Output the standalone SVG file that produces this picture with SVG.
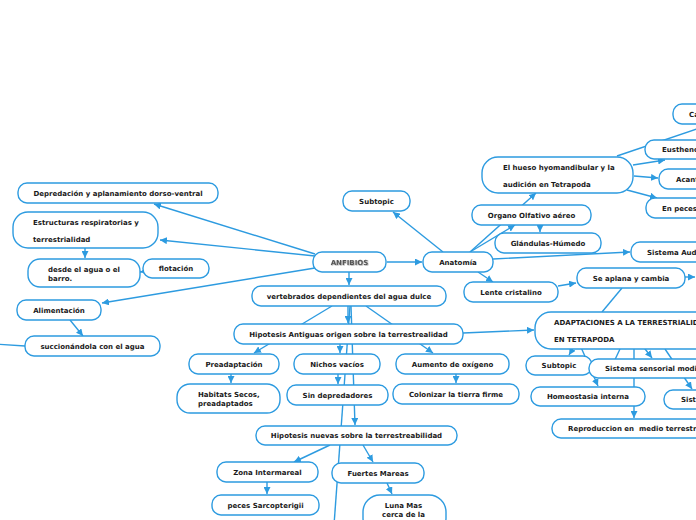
<svg xmlns="http://www.w3.org/2000/svg" width="696" height="520" viewBox="0 0 696 520">
<defs>
<style>
.n rect{fill:#fff;stroke:#2d9be0;stroke-width:1.4}
.t{font-family:"DejaVu Sans",Verdana,sans-serif;font-weight:bold;font-size:7px;fill:#1a1a1a}
.m{text-anchor:middle}
.c path{stroke:#2d9be0;stroke-width:1.4;fill:none}
.c path.a{marker-end:url(#ah)}
</style>
<marker id="ah" viewBox="0 0 10 10" refX="10" refY="5" markerWidth="7" markerHeight="7" markerUnits="userSpaceOnUse" orient="auto"><path d="M0,0 L10,5 L0,10 z" fill="#2d9be0"/></marker>
<filter id="sh" x="-10%" y="-30%" width="120%" height="160%"><feDropShadow dx="0.6" dy="0.6" stdDeviation="0.5" flood-color="#999"/></filter>
</defs>
<rect width="696" height="520" fill="#fff"/>
<g id="connectors" class="c">
<path class="a" d="M387,262 L422,262"/>
<path class="a" d="M443,252 L393,212"/>
<path class="a" d="M315,254 L154,204"/>
<path class="a" d="M315,256 L160,240"/>
<path class="a" d="M315,268 L102,303"/>
<path class="a" d="M85,248 L85,258"/>
<path class="a" d="M147,271 L140,272"/>
<path class="a" d="M70,320 L83,336"/>
<path d="M-5,344 L25,346"/>
<path class="a" d="M349,272 L349,285"/>
<path class="a" d="M348,306 L348,323"/>
<path class="a" d="M332,306 L254,353"/>
<path class="a" d="M366,306 L433,353"/>
<path class="a" d="M340,344 L340,353"/>
<path class="a" d="M351,306 L355,425"/>
<path d="M350,306 L334,525"/>
<path class="a" d="M231,374 L231,383"/>
<path class="a" d="M338,374 L338,384"/>
<path class="a" d="M456,374 L456,383"/>
<path class="a" d="M330,445 L294,462"/>
<path class="a" d="M363,445 L373,462"/>
<path class="a" d="M267,482 L267,494"/>
<path class="a" d="M387,483 L392,494"/>
<path class="a" d="M470,252 L515,225"/>
<path class="a" d="M470,252 L536,193"/>
<path class="a" d="M540,225 L540,232"/>
<path class="a" d="M493,259 L630,252"/>
<path class="a" d="M478,272 L493,282"/>
<path class="a" d="M558,286 L576,283"/>
<path class="a" d="M685,277 L695,277"/>
<path d="M622,288 L602,312"/>
<path class="a" d="M463,333 L534,330"/>
<path class="a" d="M578,340 L569,355"/>
<path class="a" d="M580,345 L598,386"/>
<path d="M620,349 L612,366"/>
<path class="a" d="M634,349 L634,418"/>
<path class="a" d="M642,345 L652,358"/>
<path class="a" d="M665,349 L692,389"/>
<path class="a" d="M633,165 L665,160"/>
<path class="a" d="M634,176 L658,178"/>
<path class="a" d="M627,190 L657,198"/>
<path d="M617,156 L700,128"/>
</g>
<g id="n-anfibios" class="n"><rect x="313" y="252" width="73" height="20" rx="9"/><text class="t m" x="349.5" y="264.5" style="fill:#555" filter="url(#sh)">ANFIBIOS</text></g>
<g id="n-anatomia" class="n"><rect x="423" y="252" width="70" height="20" rx="9"/><text class="t m" x="458" y="264.5">Anatomía</text></g>
<g id="n-subtopic1" class="n"><rect x="343" y="191" width="67" height="20" rx="9"/><text class="t m" x="376.5" y="203.5">Subtopic</text></g>
<g id="n-depredacion" class="n"><rect x="18" y="183" width="200" height="20" rx="9"/><text class="t m" x="118" y="195.5">Depredación y aplanamiento dorso-ventral</text></g>
<g id="n-estructuras" class="n"><rect x="13" y="212" width="145" height="36" rx="15"/><text class="t" x="33" y="225">Estructuras respiratorias y</text><text class="t" x="33" y="242">terrestrialidad</text></g>
<g id="n-desde" class="n"><rect x="28" y="259" width="112" height="28" rx="12"/><text class="t" x="48" y="272">desde el agua o el</text><text class="t" x="48" y="281">barro.</text></g>
<g id="n-flotacion" class="n"><rect x="143" y="259" width="66" height="19" rx="9"/><text class="t m" x="176" y="271">flotación</text></g>
<g id="n-alimentacion" class="n"><rect x="17" y="300" width="84" height="20" rx="9"/><text class="t m" x="59" y="312.5">Alimentación</text></g>
<g id="n-succionandola" class="n"><rect x="25" y="336" width="135" height="20" rx="9"/><text class="t m" x="92.5" y="348.5">succionándola con el agua</text></g>
<g id="n-vertebrados" class="n"><rect x="252" y="286" width="194" height="20" rx="9"/><text class="t m" x="349" y="298.5">vertebrados dependientes del agua dulce</text></g>
<g id="n-hipantiguas" class="n"><rect x="234" y="324" width="229" height="20" rx="9"/><text class="t m" x="348.5" y="336.5">Hipotesis Antiguas origen sobre la terrestrealidad</text></g>
<g id="n-preadaptacion" class="n"><rect x="189" y="354" width="90" height="20" rx="9"/><text class="t m" x="234" y="366.5">Preadaptación</text></g>
<g id="n-habitats" class="n"><rect x="177" y="384" width="103" height="29" rx="13"/><text class="t" x="198" y="397">Habitats Secos,</text><text class="t" x="198" y="405.5">preadaptados</text></g>
<g id="n-nichos" class="n"><rect x="294" y="354" width="86" height="20" rx="9"/><text class="t m" x="337" y="366.5">Nichos vacíos</text></g>
<g id="n-sindep" class="n"><rect x="287" y="385" width="101" height="20" rx="9"/><text class="t m" x="337.5" y="397.5">Sin depredadores</text></g>
<g id="n-aumento" class="n"><rect x="396" y="354" width="113" height="20" rx="9"/><text class="t m" x="452.5" y="366.5">Aumento de oxígeno</text></g>
<g id="n-colonizar" class="n"><rect x="393" y="384" width="126" height="20" rx="9"/><text class="t m" x="456" y="396.5">Colonizar la tierra firme</text></g>
<g id="n-hipnuevas" class="n"><rect x="256" y="426" width="201" height="19" rx="9"/><text class="t m" x="356.5" y="438">Hipotesis nuevas sobre la terrestreabilidad</text></g>
<g id="n-zona" class="n"><rect x="217" y="462" width="101" height="20" rx="9"/><text class="t m" x="267.5" y="474.5">Zona Intermareal</text></g>
<g id="n-fuertes" class="n"><rect x="332" y="463" width="92" height="20" rx="9"/><text class="t m" x="378" y="475.5">Fuertes Mareas</text></g>
<g id="n-peces" class="n"><rect x="212" y="495" width="107" height="20" rx="9"/><text class="t m" x="265.5" y="507.5">peces Sarcopterigii</text></g>
<g id="n-luna" class="n"><rect x="363" y="495" width="83" height="40" rx="17"/><text class="t m" x="403.5" y="508">Luna Mas</text><text class="t m" x="403.5" y="516.5">cerca de la</text></g>
<g id="n-hueso" class="n"><rect x="482" y="157" width="151" height="36" rx="16"/><text class="t" x="503" y="169.5">El hueso hyomandibular y la</text><text class="t" x="503" y="186.5">audición en Tetrapoda</text></g>
<g id="n-organo" class="n"><rect x="472" y="205" width="119" height="20" rx="9"/><text class="t m" x="531.5" y="217.5">Organo Olfativo aéreo</text></g>
<g id="n-glandulas" class="n"><rect x="495" y="233" width="106" height="20" rx="9"/><text class="t m" x="548" y="245.5">Glándulas-Húmedo</text></g>
<g id="n-ca" class="n"><rect x="673" y="104" width="80" height="20" rx="9"/><text class="t" x="689" y="116.5">Ca</text></g>
<g id="n-eusthenopteron" class="n"><rect x="645" y="140" width="100" height="19" rx="9"/><text class="t" x="662" y="152">Eusthenopteron</text></g>
<g id="n-acanthostega" class="n"><rect x="659" y="169" width="80" height="20" rx="9"/><text class="t" x="676" y="181.5">Acanthostega</text></g>
<g id="n-enpeces" class="n"><rect x="646" y="198" width="100" height="20" rx="9"/><text class="t" x="662" y="210.5">En peces</text></g>
<g id="n-sisauditivo" class="n"><rect x="631" y="242" width="100" height="20" rx="9"/><text class="t" x="647" y="254.5">Sistema Auditivo</text></g>
<g id="n-seaplana" class="n"><rect x="577" y="268" width="108" height="20" rx="9"/><text class="t m" x="631" y="280.5">Se aplana y cambia</text></g>
<g id="n-lente" class="n"><rect x="464" y="282" width="94" height="20" rx="9"/><text class="t m" x="511" y="294.5">Lente cristalino</text></g>
<g id="n-adaptaciones" class="n"><rect x="535" y="312" width="220" height="37" rx="16"/><text class="t" x="554" y="325">ADAPTACIONES A LA TERRESTRIALIDAD</text><text class="t" x="554" y="342">EN TETRAPODA</text></g>
<g id="n-subtopic2" class="n"><rect x="526" y="356" width="66" height="19" rx="9"/><text class="t m" x="559" y="368">Subtopic</text></g>
<g id="n-sissensorial" class="n"><rect x="589" y="359" width="150" height="19" rx="9"/><text class="t" x="605" y="371">Sistema sensorial modificado</text></g>
<g id="n-homeostasia" class="n"><rect x="531" y="387" width="114" height="19" rx="9"/><text class="t m" x="588" y="399">Homeostasia interna</text></g>
<g id="n-siste" class="n"><rect x="664" y="390" width="80" height="19" rx="9"/><text class="t" x="681" y="402">Sistema</text></g>
<g id="n-reproduccion" class="n"><rect x="552" y="419" width="180" height="19" rx="9"/><text class="t" x="568" y="431" xml:space="preserve">Reproduccion en  medio terrestre</text></g>
</svg>
